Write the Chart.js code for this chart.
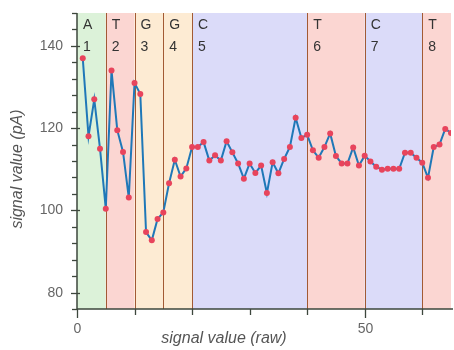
<!DOCTYPE html>
<html><head><meta charset="utf-8">
<script src="https://cdn.jsdelivr.net/npm/chart.js@4"></script>
<style>html,body{margin:0;padding:0;background:#fff}#wrap{width:454px;height:350px}</style>
</head><body><div id="wrap"><canvas id="c" width="454" height="350"></canvas></div>
<script>
// ---- data ----
const xValues = [1,2,3,4,5,6,7,8,9,10,11,12,13,14,15,16,17,18,19,20,21,22,23,24,25,26,27,28,29,30,31,32,33,34,35,36,37,38,39,40,41,42,43,44,45,46,47,48,49,50,51,52,53,54,55,56,57,58,59,60,61,62,63,64,65];
const yValues = [137,118,127,115,100.4,134,119.5,114.2,103.1,131,128.3,94.7,92.7,97.9,99.5,106.6,112.3,108.2,110.2,115.4,115.4,116.6,112.1,113.4,112.1,116.8,114.1,111.4,107.7,111.4,109.1,110.9,104.2,111.7,109,112.5,115.4,122.5,117.6,118.4,114.6,112.8,115.4,118.7,113.2,111.4,111.4,115.3,110.9,113.3,111.9,110.6,109.9,110.1,110.1,110.1,114,114,112.8,111.6,107.9,115.4,116,119.8,118.8];
const regionBounds = [0,5,10,15,20,40,50,60,65];
const regionBases = ['A','T','G','G','C','T','C','T'];
const regionNumbers = ['1','2','3','4','5','6','7','8'];
const yMajorLabels = [80,100,120,140];
const xMajorLabels = [0,50];
const xTitle = 'signal value (raw)';
const yTitle = 'signal value (pA)';

// ---- styles ----
const baseColors = {A:'#dcf2d9', T:'#fbd6d2', G:'#fdebd3', C:'#dbdbf9'};
const FONT = '"Liberation Sans", Arial, sans-serif';

const deco = {
  id:'deco',
  beforeDatasetsDraw(chart){
    const {ctx, chartArea:a, scales:{x}} = chart;
    ctx.save();
    for (let i=0;i<regionBases.length;i++){
      const x0 = x.getPixelForValue(regionBounds[i]);
      const x1 = Math.min(x.getPixelForValue(regionBounds[i+1]), a.right);
      ctx.fillStyle = baseColors[regionBases[i]];
      ctx.fillRect(x0, a.top, x1-x0, a.bottom-a.top);
    }
    ctx.strokeStyle = '#a25a34'; ctx.lineWidth = 1;
    for (let i=1;i<regionBounds.length-1;i++){
      const px = Math.round(x.getPixelForValue(regionBounds[i]))+0.5;
      ctx.beginPath(); ctx.moveTo(px, a.top); ctx.lineTo(px, a.bottom); ctx.stroke();
    }
    ctx.fillStyle = '#333'; ctx.font = '14px '+FONT; ctx.textAlign='left'; ctx.textBaseline='middle';
    for (let i=0;i<regionBases.length;i++){
      const x0 = x.getPixelForValue(regionBounds[i]);
      ctx.fillText(regionBases[i], x0+6, a.top+12);
      ctx.fillText(regionNumbers[i], x0+6, a.top+34);
    }
    ctx.restore();
  },
  afterDraw(chart){
    const {ctx, chartArea:a, scales:{x,y}} = chart;
    ctx.save();
    ctx.strokeStyle = '#3d473d'; ctx.lineWidth = 1.5;
    ctx.beginPath(); ctx.moveTo(a.left, a.top); ctx.lineTo(a.left, a.bottom); ctx.lineTo(a.right+2, a.bottom); ctx.stroke();
    ctx.lineWidth = 1.3;
    ctx.fillStyle = '#666'; ctx.font = '14px '+FONT;
    ctx.textAlign='right'; ctx.textBaseline='middle';
    y.ticks.forEach(t=>{
      const py = Math.round(y.getPixelForValue(t.value))+0.5;
      const major = yMajorLabels.includes(t.value);
      ctx.beginPath();
      ctx.moveTo(a.left-(major?6:5), py); ctx.lineTo(a.left+(major?3:0), py); ctx.stroke();
      if (major) ctx.fillText(String(t.value), a.left-14, py);
    });
    ctx.textAlign='center';
    x.ticks.forEach(t=>{
      if (t.value % 10 !== 0) return;
      const px = Math.round(x.getPixelForValue(t.value))+0.5;
      const major = xMajorLabels.includes(t.value);
      ctx.beginPath();
      ctx.moveTo(px, a.bottom); ctx.lineTo(px, a.bottom+(major?9:6)); ctx.stroke();
      if (major) ctx.fillText(String(t.value), px, a.bottom+20);
    });
    ctx.fillStyle = '#555'; ctx.font = 'italic 16px '+FONT;
    ctx.fillText(xTitle, 224, 339);
    ctx.translate(18, 169); ctx.rotate(-Math.PI/2);
    ctx.fillText(yTitle, 0, 0);
    ctx.restore();
  }
};

new Chart(document.getElementById('c'), {
  type:'line',
  data:{ datasets:[{
    data: xValues.map((v,i)=>({x:v, y:yValues[i]})),
    borderColor:'#1f78b8', borderWidth:2, tension:0,
    pointRadius:3, pointHoverRadius:3, pointBackgroundColor:'#e8445c', pointBorderWidth:0,
    clip:0
  }]},
  options:{
    responsive:false, animation:false, devicePixelRatio:1, events:[],
    layout:{padding:{left:0,right:2,top:13,bottom:0}},
    plugins:{legend:{display:false}, tooltip:{enabled:false}},
    scales:{
      x:{type:'linear', min:0, max:65, ticks:{display:false, stepSize:10}, grid:{display:false}, border:{display:false}, afterFit(s){s.height=41;}},
      y:{type:'linear', min:76, max:148, ticks:{display:false, stepSize:4}, grid:{display:false}, border:{display:false}, afterFit(s){s.width=77;}}
    }
  },
  plugins:[deco]
});
</script></body></html>
